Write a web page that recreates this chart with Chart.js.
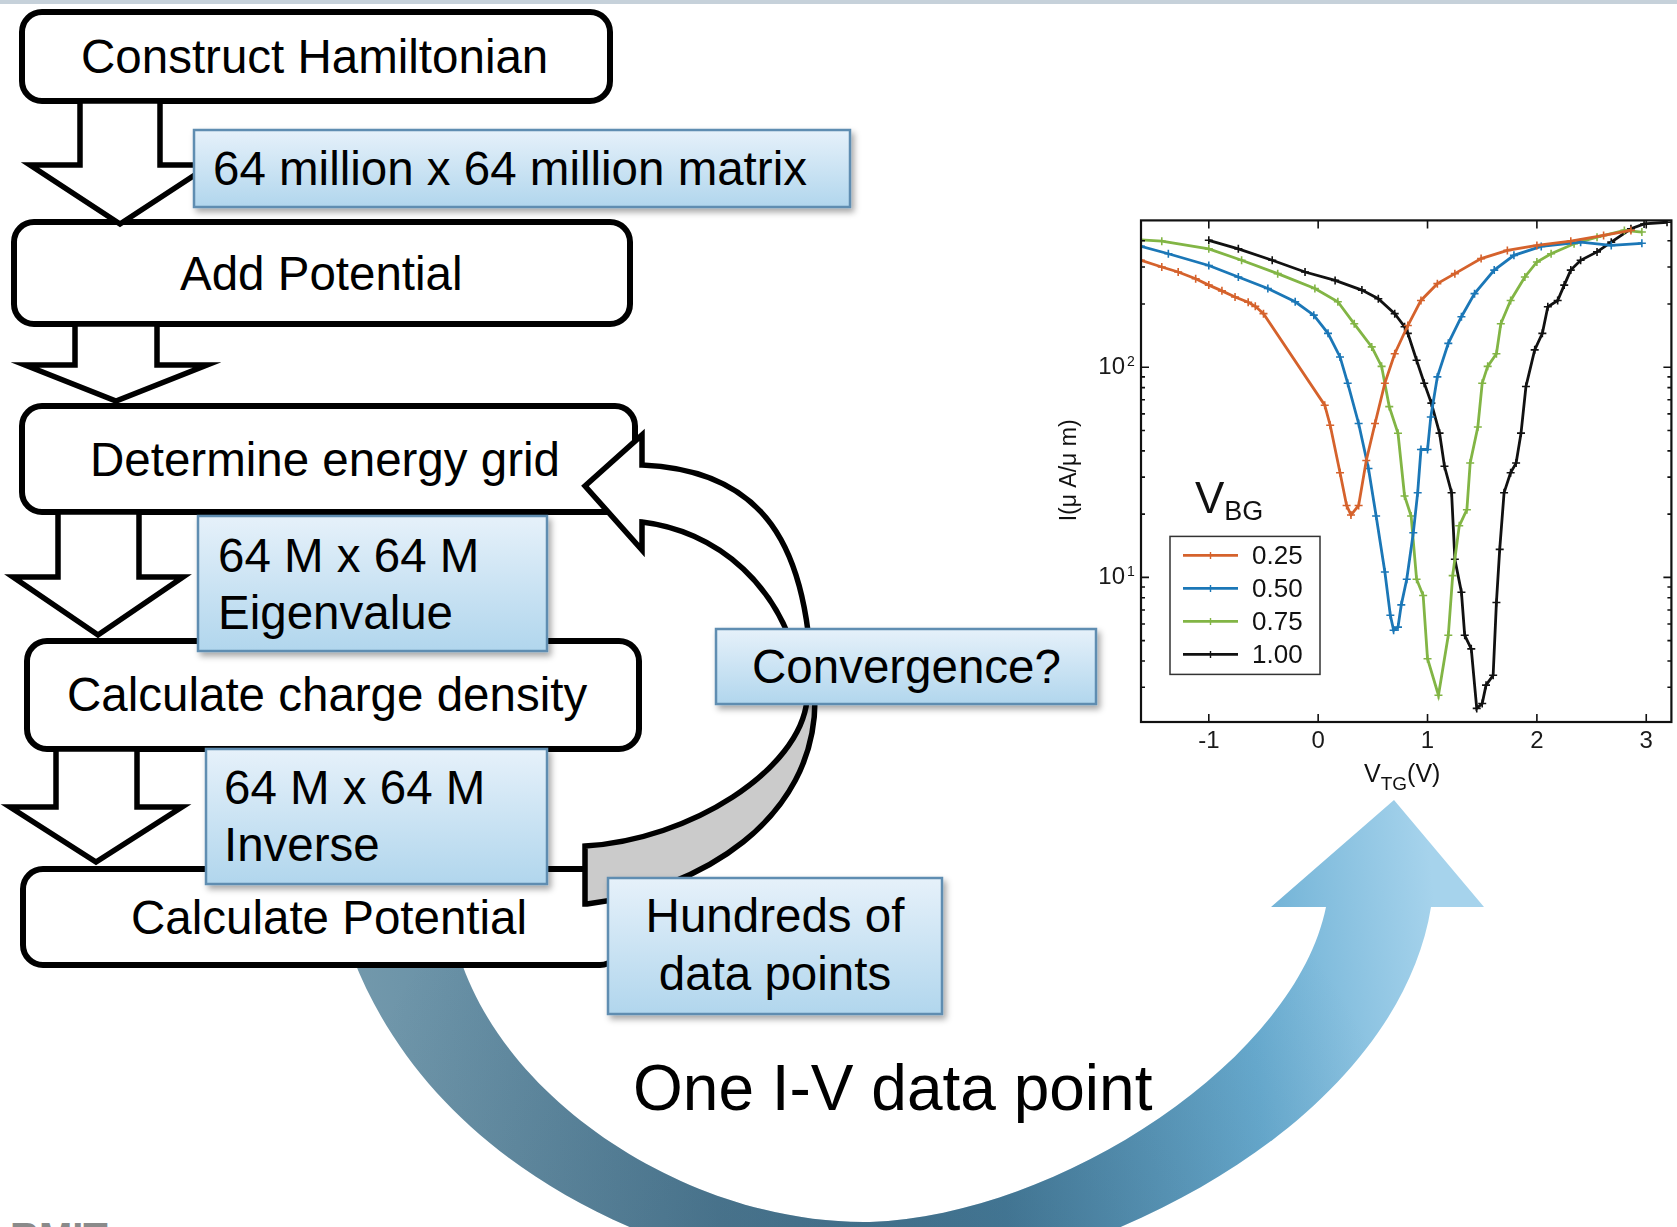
<!DOCTYPE html>
<html>
<head>
<meta charset="utf-8">
<title>Self-consistent NEGF loop and I-V curves</title>
<script src="https://cdn.jsdelivr.net/npm/chart.js@4.4.1/dist/chart.umd.min.js"></script>
<style>
  html, body { margin: 0; padding: 0; background: #fff; overflow: hidden; }
  #stage { position: relative; width: 1677px; height: 1227px; overflow: hidden; }
  #diagram { position: absolute; left: 0; top: 0; }
  #iv { position: absolute; left: 1000px; top: 190px; }
</style>
</head>
<body>
<div id="stage">
<svg id="diagram" width="1677" height="1227" viewBox="0 0 1677 1227" xmlns="http://www.w3.org/2000/svg">
  <defs>
    <linearGradient id="tagFill" x1="0" y1="0" x2="0" y2="1">
      <stop offset="0" stop-color="#e6f1fa"/>
      <stop offset="1" stop-color="#b1d6ed"/>
    </linearGradient>
    <filter id="tagShadow" x="-10%" y="-10%" width="125%" height="140%">
      <feDropShadow dx="3" dy="4" stdDeviation="3" flood-color="#000" flood-opacity="0.35"/>
    </filter>
    <linearGradient id="ribbonHue" gradientUnits="userSpaceOnUse" x1="350" y1="1000" x2="1490" y2="880">
      <stop offset="0" stop-color="#7399ac"/>
      <stop offset="0.3" stop-color="#53809a"/>
      <stop offset="0.55" stop-color="#4c84a4"/>
      <stop offset="0.78" stop-color="#6aaed3"/>
      <stop offset="0.95" stop-color="#a6d3ec"/>
    </linearGradient>
    <radialGradient id="ribbonShade" gradientUnits="userSpaceOnUse" cx="870" cy="1290" r="560">
      <stop offset="0" stop-color="#1c3c50" stop-opacity="0.3"/>
      <stop offset="1" stop-color="#1c3c50" stop-opacity="0"/>
    </radialGradient>
  </defs>

  <!-- slide header strip -->
  <rect x="0" y="0" width="1677" height="4" fill="#c6d1da"/>

  <!-- loop output ribbon towards the I-V plot -->
  <g>
    <path d="M353 958 C420 1130 600 1260 880 1290 C1150 1260 1400 1100 1431 907 L1484 907 L1394 800 L1271 907 L1326 907 C1295 1060 1060 1215 870 1222 C700 1225 510 1110 460 958 Z" fill="url(#ribbonHue)"/>
    <path d="M353 958 C420 1130 600 1260 880 1290 C1150 1260 1400 1100 1431 907 L1484 907 L1394 800 L1271 907 L1326 907 C1295 1060 1060 1215 870 1222 C700 1225 510 1110 460 958 Z" fill="url(#ribbonShade)"/>
  </g>

  <g font-family="'Liberation Sans', Arial, Helvetica, sans-serif" font-size="47.5" fill="#000">
    <!-- process steps -->
    <g fill="#fff" stroke="#000" stroke-width="6">
      <rect x="22" y="12" width="588" height="89" rx="20"/>
      <rect x="14" y="222" width="616" height="102" rx="20"/>
      <rect x="22" y="406" width="613" height="106" rx="20"/>
      <rect x="27" y="641" width="612" height="108" rx="20"/>
      <rect x="23" y="869" width="597" height="96" rx="20"/>
    </g>
    <text x="81" y="73">Construct Hamiltonian</text>
    <text x="180" y="290">Add Potential</text>
    <text x="90" y="476">Determine energy grid</text>
    <text x="67" y="711">Calculate charge density</text>
    <text x="131" y="934">Calculate Potential</text>

    <!-- block arrows between steps -->
    <g fill="#fff" stroke="#000" stroke-width="5.5" stroke-linejoin="miter" stroke-miterlimit="10">
      <path d="M80 101 L160 101 L160 165 L210 165 L120 224 L30 165 L80 165 Z"/>
      <path d="M75 324 L157 324 L157 365 L207 365 L116 401 L25 365 L75 365 Z"/>
      <path d="M58 512 L139 512 L139 577 L183 577 L98 635 L13 577 L58 577 Z"/>
      <path d="M56 749 L137 749 L137 807 L182 807 L96 862 L10 807 L56 807 Z"/>
    </g>

    <!-- cost annotations -->
    <g fill="url(#tagFill)" stroke="#5e8db1" stroke-width="2.5" filter="url(#tagShadow)">
      <rect x="194" y="130" width="656" height="77"/>
      <rect x="198" y="516" width="349" height="135"/>
      <rect x="206" y="749" width="341" height="135"/>
    </g>
    <text x="213" y="185">64 million x 64 million matrix</text>
    <text x="218" y="572">64 M x 64 M</text>
    <text x="218" y="629">Eigenvalue</text>
    <text x="224" y="804">64 M x 64 M</text>
    <text x="224" y="861">Inverse</text>

    <!-- self-consistency return arrow -->
    <g stroke="#000" stroke-width="5.5" stroke-linejoin="miter" stroke-miterlimit="10">
      <path d="M585 846 C690 840 800 770 807 700 L815 700 C815 820 700 890 587 904 L585 904 Z" fill="#cbcbcb"/>
      <path d="M812 700 C812 540 760 470 642 465 L642 435 L585 486 L642 550 L642 522 C710 530 790 580 805 700 Z" fill="#fff"/>
    </g>

    <g fill="url(#tagFill)" stroke="#5e8db1" stroke-width="2.5" filter="url(#tagShadow)">
      <rect x="716" y="629" width="380" height="75"/>
      <rect x="608" y="878" width="334" height="136"/>
    </g>
    <text x="752" y="683">Convergence?</text>
    <text x="775" y="932" text-anchor="middle">Hundreds of</text>
    <text x="775" y="990" text-anchor="middle">data points</text>

    <text x="633" y="1110" font-size="64">One I-V data point</text>
    <text x="10" y="1251" font-size="40" font-weight="bold" fill="#8a8a8a">RMIT</text>
  </g>
</svg>
<canvas id="iv" width="677" height="620"></canvas>
</div>

<script>
// Top-gate sweep V_TG (V) and drain current I (uA/um) for each back-gate bias V_BG
const vtg025 = [-1.62, -1.43, -1.28, -1.12, -1.00, -0.88, -0.76, -0.64, -0.575, -0.50, 0.06, 0.11, 0.20, 0.26, 0.30, 0.37, 0.44, 0.52, 0.61, 0.70, 0.82, 0.94, 1.09, 1.25, 1.49, 1.73, 2.00, 2.31, 2.61, 2.86];
const cur025 = [323, 300, 284, 264, 246, 231, 216, 204, 195, 180, 66, 53, 31.5, 22, 19.8, 22, 36, 54, 84, 116, 158, 208, 250, 279, 329, 360, 380, 398, 424, 448];

const vtg050 = [-1.62, -1.37, -1.00, -0.73, -0.46, -0.21, -0.04, 0.09, 0.20, 0.27, 0.37, 0.46, 0.53, 0.61, 0.66, 0.69, 0.73, 0.76, 0.81, 0.87, 0.91, 0.94, 1.00, 1.03, 1.09, 1.19, 1.31, 1.43, 1.61, 1.79, 2.04, 2.40, 2.68, 2.96];
const cur050 = [376, 347, 305, 269, 237, 205, 177, 145, 112, 84, 54, 33, 19.6, 10.6, 6.6, 5.6, 5.8, 7.4, 9.8, 16.3, 25.3, 40.6, 40.6, 58, 90, 130, 174, 224, 290, 341, 376, 394, 380, 389];

const vtg075 = [-1.62, -1.43, -1.00, -0.70, -0.37, -0.03, 0.18, 0.33, 0.49, 0.58, 0.65, 0.73, 0.79, 0.85, 0.90, 0.96, 1.00, 1.10, 1.19, 1.23, 1.29, 1.36, 1.39, 1.46, 1.50, 1.55, 1.63, 1.67, 1.76, 1.89, 2.00, 2.13, 2.34, 2.55, 2.80, 2.96];
const cur075 = [404, 398, 366, 323, 279, 237, 205, 161, 125, 101, 65, 48.5, 24.4, 19.6, 9.8, 8.2, 4.1, 2.75, 5.3, 10.2, 17.6, 21, 35, 52, 84, 101, 116, 161, 208, 269, 317, 347, 387, 416, 448, 440];

const vtg100 = [-1.00, -0.73, -0.42, -0.12, 0.155, 0.40, 0.55, 0.70, 0.79, 0.82, 0.90, 0.97, 1.035, 1.11, 1.155, 1.22, 1.25, 1.31, 1.34, 1.40, 1.45, 1.50, 1.535, 1.60, 1.63, 1.66, 1.70, 1.76, 1.81, 1.855, 1.90, 1.98, 2.05, 2.10, 2.19, 2.25, 2.31, 2.40, 2.55, 2.68, 2.86, 2.98, 3.19];
const cur100 = [402, 366, 323, 284, 259, 233, 212, 180, 156, 145, 108, 84, 67.5, 48.6, 33.8, 25.3, 12.2, 8.5, 5.3, 4.57, 2.38, 2.51, 3.07, 3.42, 7.6, 13.6, 25.3, 31.5, 35, 48.6, 81, 121, 145, 194, 208, 246, 290, 323, 354, 394, 456, 481, 490];

const biasLabels = ['0.25', '0.50', '0.75', '1.00'];
const biasColors = ['#d5622c', '#1b77b7', '#82b545', '#111111'];

// Axis ticks
const xTickValues = [-1, 0, 1, 2, 3];
const yLabelTicks = [10, 100];
const yMinorTicks = [3, 4, 5, 6, 7, 8, 9, 20, 30, 40, 50, 60, 70, 80, 90, 200, 300, 400];

const FONT = '"Liberation Sans", Arial, Helvetica, sans-serif';
Chart.defaults.font.family = FONT;
Chart.defaults.color = '#111';

const toPoints = (xs, ys) => xs.map((v, i) => ({ x: v, y: ys[i] }));
const series = [[vtg025, cur025], [vtg050, cur050], [vtg075, cur075], [vtg100, cur100]];

const datasets = series.map(([xs, ys], i) => ({
  label: biasLabels[i],
  data: toPoints(xs, ys),
  borderColor: biasColors[i],
  backgroundColor: biasColors[i],
  pointBorderColor: biasColors[i],
  borderWidth: 2.8,
  pointStyle: 'cross',
  pointRadius: 4,
  pointBorderWidth: 1.6,
  tension: 0,
  fill: false
}));

function seg(ctx, x1, y1, x2, y2) { ctx.moveTo(x1, y1); ctx.lineTo(x2, y2); }

// Frame, inward ticks, superscripts, axis titles and the boxed legend
const ivDecorations = {
  id: 'ivDecorations',
  afterDatasetsDraw(chart) {
    const { ctx, chartArea: a, scales } = chart;
    const xs = scales.x, ys = scales.y;
    ctx.save();

    ctx.strokeStyle = '#111';
    ctx.lineWidth = 2.2;
    ctx.strokeRect(a.left, a.top, a.right - a.left, a.bottom - a.top);

    ctx.lineWidth = 1.6;
    ctx.beginPath();
    xTickValues.forEach(v => {
      const p = xs.getPixelForValue(v);
      seg(ctx, p, a.bottom, p, a.bottom - 8);
      seg(ctx, p, a.top, p, a.top + 8);
    });
    yLabelTicks.forEach(v => {
      const p = ys.getPixelForValue(v);
      seg(ctx, a.left, p, a.left + 8, p);
      seg(ctx, a.right, p, a.right - 8, p);
    });
    yMinorTicks.forEach(v => {
      const p = ys.getPixelForValue(v);
      seg(ctx, a.left, p, a.left + 4, p);
      seg(ctx, a.right, p, a.right - 4, p);
    });
    ctx.stroke();

    // decade exponents next to the "10" tick labels
    ctx.fillStyle = '#111';
    ctx.font = '14px ' + FONT;
    ctx.textAlign = 'left';
    ctx.textBaseline = 'alphabetic';
    yLabelTicks.forEach(v => {
      const p = ys.getPixelForValue(v);
      ctx.fillText(String(Math.round(Math.log10(v))), a.left - 14, p - 1);
    });

    // x-axis title: V_TG(V)
    let tx = a.left + 223;
    const ty = a.bottom + 60;
    ctx.font = '25px ' + FONT;
    ctx.fillText('V', tx, ty);
    tx += ctx.measureText('V').width;
    ctx.font = '19px ' + FONT;
    ctx.fillText('TG', tx, ty + 8);
    tx += ctx.measureText('TG').width;
    ctx.font = '25px ' + FONT;
    ctx.fillText('(V)', tx, ty);

    // y-axis title
    ctx.save();
    ctx.translate(a.left - 71, a.top + 250);
    ctx.rotate(-Math.PI / 2);
    ctx.textAlign = 'center';
    ctx.textBaseline = 'middle';
    ctx.font = '23px ' + FONT;
    ctx.fillText('I(\u03bc A/\u03bc m)', 0, 0);
    ctx.restore();

    // legend heading V_BG
    ctx.textAlign = 'left';
    ctx.textBaseline = 'alphabetic';
    ctx.font = '44px ' + FONT;
    ctx.fillText('V', a.left + 54, a.top + 293);
    const vw = ctx.measureText('V').width;
    ctx.font = '27px ' + FONT;
    ctx.fillText('BG', a.left + 54 + vw, a.top + 300);

    // legend box
    const lx = a.left + 29, ly = a.top + 316, lw = 150, lh = 138;
    ctx.fillStyle = '#fff';
    ctx.fillRect(lx, ly, lw, lh);
    ctx.strokeStyle = '#333';
    ctx.lineWidth = 1.5;
    ctx.strokeRect(lx, ly, lw, lh);
    chart.data.datasets.forEach((ds, i) => {
      const yy = ly + 19 + i * 33;
      ctx.strokeStyle = ds.borderColor;
      ctx.lineWidth = 2.6;
      ctx.beginPath();
      seg(ctx, lx + 13, yy, lx + 68, yy);
      ctx.stroke();
      ctx.lineWidth = 1.4;
      ctx.beginPath();
      seg(ctx, lx + 37, yy, lx + 44, yy);
      seg(ctx, lx + 40.5, yy - 3.5, lx + 40.5, yy + 3.5);
      ctx.stroke();
      ctx.fillStyle = '#111';
      ctx.font = '26px ' + FONT;
      ctx.textBaseline = 'middle';
      ctx.fillText(ds.label, lx + 82, yy + 1);
    });

    ctx.restore();
  }
};

new Chart(document.getElementById('iv'), {
  type: 'line',
  data: { datasets },
  options: {
    responsive: false,
    animation: false,
    devicePixelRatio: 1,
    layout: { padding: { top: 28, right: 4, left: 0, bottom: 0 } },
    plugins: { legend: { display: false }, tooltip: { enabled: false } },
    scales: {
      x: {
        type: 'linear',
        min: -1.62,
        max: 3.23,
        afterBuildTicks: s => { s.ticks = xTickValues.map(v => ({ value: v })); },
        afterFit: s => { s.height = 88; },
        grid: { display: false, drawTicks: false },
        border: { display: false },
        ticks: { font: { size: 24 }, color: '#1a1a1a', padding: 5, maxRotation: 0, callback: v => String(v) }
      },
      y: {
        type: 'logarithmic',
        min: 2.05,
        max: 500,
        afterBuildTicks: s => { s.ticks = yLabelTicks.map(v => ({ value: v })); },
        afterFit: s => { s.width = 141; },
        grid: { display: false, drawTicks: false },
        border: { display: false },
        ticks: { font: { size: 24 }, color: '#1a1a1a', padding: 16, callback: () => '10' }
      }
    }
  },
  plugins: [ivDecorations]
});
</script>
</body>
</html>
